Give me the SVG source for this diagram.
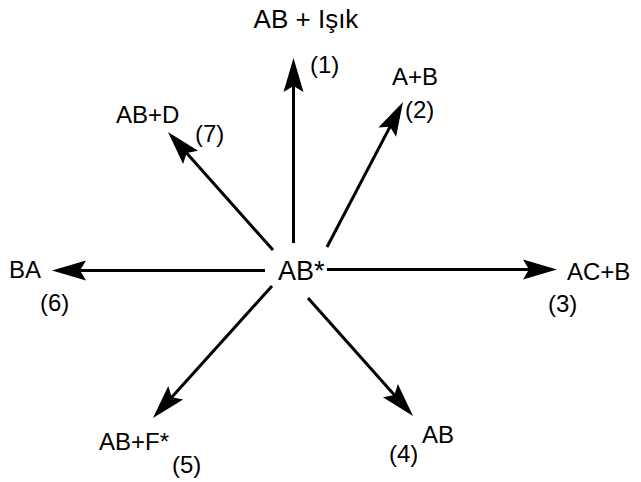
<svg xmlns="http://www.w3.org/2000/svg" width="641" height="482" viewBox="0 0 641 482">
<style>
text{font-family:"Liberation Sans",Arial,sans-serif;font-size:24px;fill:#000}
.c{font-size:27px}
.t{font-size:26px}
line{stroke:#000;stroke-width:3;marker-end:url(#ah)}
</style>
<defs>
<marker id="ah" markerUnits="userSpaceOnUse" markerWidth="40" markerHeight="24" viewBox="-10 -12 40 24" refX="0" refY="0" orient="auto" overflow="visible">
<path d="M25,0 L-9,-10 L-3,0 L-9,10 Z" fill="#000"/>
</marker>
</defs>
<rect width="641" height="482" fill="#fff"/>
<g id="connectors">
<line x1="293.5" y1="243" x2="293.5" y2="83"/>
<line x1="327" y1="247" x2="391.4" y2="124.1"/>
<line x1="327" y1="269.5" x2="532" y2="269.5"/>
<line x1="308" y1="298" x2="396.4" y2="397.3"/>
<line x1="272" y1="286" x2="169.7" y2="399.4"/>
<line x1="265" y1="270.5" x2="77" y2="270.5"/>
<line x1="273" y1="250" x2="184.6" y2="150.7"/>
</g>
<g id="center"><text class="c" x="278" y="280">AB*</text></g>
<g id="n1"><text class="t" x="306" y="28" text-anchor="middle">AB + Işık</text><text x="310" y="73">(1)</text></g>
<g id="n2"><text x="392" y="85">A+B</text><text x="405" y="118">(2)</text></g>
<g id="n3"><text x="567" y="280">AC+B</text><text x="548" y="312">(3)</text></g>
<g id="n4"><text x="422" y="443">AB</text><text x="389" y="462">(4)</text></g>
<g id="n5"><text x="169" y="450" text-anchor="end">AB+F*</text><text x="172" y="473">(5)</text></g>
<g id="n6"><text x="9" y="278">BA</text><text x="40" y="311">(6)</text></g>
<g id="n7"><text x="116" y="123">AB+D</text><text x="195" y="142">(7)</text></g>
</svg>
